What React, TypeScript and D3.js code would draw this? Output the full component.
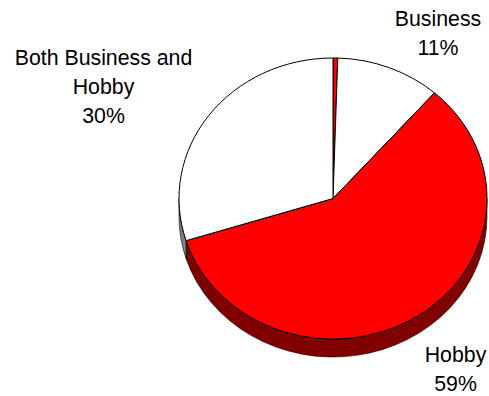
import React from "react";
import * as d3 from "d3";

// Share of respondents by use; the first slice is an unlabelled remainder.
const categories = ["Other", "Business", "Hobby", "Both Business and Hobby"];
const shares = [0.5, 11, 59, 30];
const topColors = ["#ff0000", "#ffffff", "#ff0000", "#ffffff"];
const wallColors = ["#800000", "#808080", "#800000", "#808080"];
const labelLines = [[], ["Business", "11%"], ["Hobby", "59%"], ["Both Business and", "Hobby", "30%"]];
const labelAnchors = [null, [438, 25.5], [455.5, 362], [103.5, 64.5]];

const W = 489;
const H = 396;
const cx = 333;
const cy = 198.5;
const rx = 154;
const ry = 140.5;
const depth = 18;
const lineGap = 29.3;

const pie = d3.pie<number>().sort(null).startAngle(0).endAngle(2 * Math.PI);
const slices = pie(shares);
const unitArc = d3.arc<d3.PieArcDatum<number>>().innerRadius(0).outerRadius(1);

// Outer edge point of the tilted disc; angle runs clockwise from twelve o'clock.
const rim = (a: number, drop = 0): [number, number] => [cx + rx * Math.sin(a), cy - ry * Math.cos(a) + drop];

// The wall is only visible on the lower half of the disc.
function wallPath(a0: number, a1: number): string | null {
  const from = Math.max(a0, Math.PI / 2);
  const to = Math.min(a1, (3 * Math.PI) / 2);
  if (to <= from) return null;
  const large = to - from > Math.PI ? 1 : 0;
  const [x0, y0] = rim(from);
  const [x1, y1] = rim(to);
  const [x2, y2] = rim(to, depth);
  const [x3, y3] = rim(from, depth);
  return `M${x0},${y0}A${rx},${ry} 0 ${large} 1 ${x1},${y1}L${x2},${y2}A${rx},${ry} 0 ${large} 0 ${x3},${y3}Z`;
}

export default function App() {
  return (
    <svg
      width={W}
      height={H}
      viewBox={`0 0 ${W} ${H}`}
      style={{ position: "fixed", left: 0, top: 0, background: "#fff" }}
      fontFamily="'Liberation Sans', Arial, sans-serif"
      fontSize={21.3}
      fill="#000"
    >
      <g>
        {slices.map((s, i) => {
          const d = wallPath(s.startAngle, s.endAngle);
          return d ? <path key={i} d={d} fill={wallColors[i]} stroke="#000" strokeWidth={0.6} /> : null;
        })}
      </g>
      <g transform={`translate(${cx},${cy}) scale(${rx},${ry})`}>
        {slices.map((s, i) => (
          <path
            key={categories[i]}
            d={unitArc(s) ?? ""}
            fill={topColors[i]}
            stroke="#000"
            strokeWidth={1}
            vectorEffect="non-scaling-stroke"
          />
        ))}
      </g>
      {labelLines.map((lines, i) => {
        const anchor = labelAnchors[i];
        if (!anchor) return null;
        return (
          <text key={categories[i]} x={anchor[0]} y={anchor[1]} textAnchor="middle">
            {lines.map((line, j) => (
              <tspan key={j} x={anchor[0]} dy={j === 0 ? 0 : lineGap}>
                {line}
              </tspan>
            ))}
          </text>
        );
      })}
    </svg>
  );
}
